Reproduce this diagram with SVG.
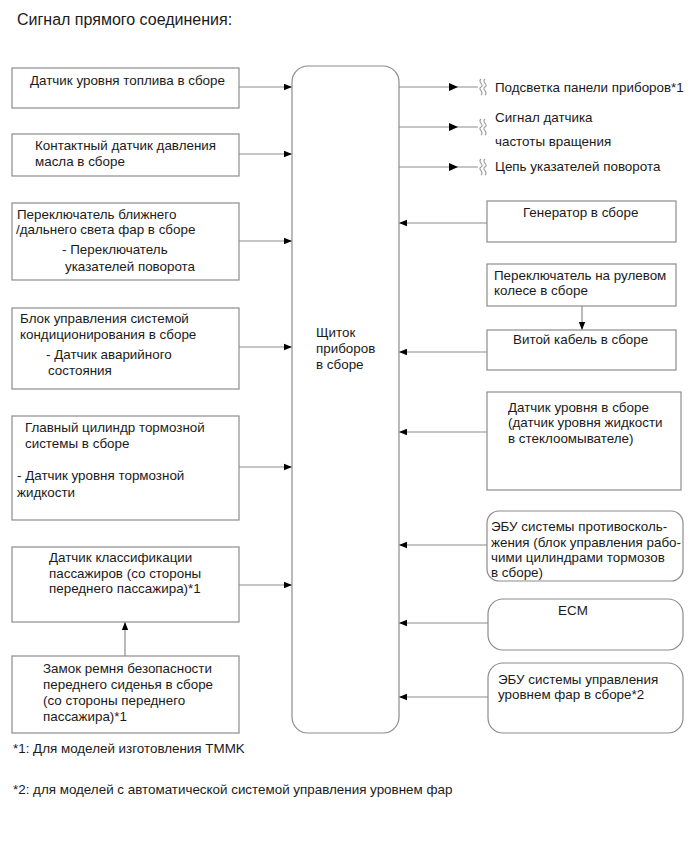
<svg xmlns="http://www.w3.org/2000/svg" width="690" height="854" viewBox="0 0 690 854">
<style>
.box{fill:#fff;stroke:#8c8c8c;stroke-width:1.2}
.ln{fill:none;stroke:#8c8c8c;stroke-width:1.2}
.t{font-family:"Liberation Sans",Arial,sans-serif;font-size:13.4px;fill:#1a1a1a;dominant-baseline:central}
.title{font-family:"Liberation Sans",Arial,sans-serif;font-size:16px;fill:#1a1a1a;dominant-baseline:central}
.sq{fill:none;stroke:#9a9a9a;stroke-width:1.1}
</style>
<defs>
<marker id="ah" viewBox="0 0 10 10" refX="10" refY="5" markerWidth="8" markerHeight="8" markerUnits="userSpaceOnUse" orient="auto">
<path d="M0,1 L10,5 L0,9 Z" fill="#000"/>
</marker>
<g id="squig">
<path class="sq" d="M-1,-8 C-5,-5 3,-2 -1,0 C-5,2 3,5 -1,8"/>
<path class="sq" d="M3,-8 C-1,-5 7,-2 3,0 C-1,2 7,5 3,8"/>
</g>
</defs>
<rect width="690" height="854" fill="#fff"/>
<text class="title" x="17" y="19">Сигнал прямого соединения:</text>

<g id="connectors">
<line class="ln" x1="239" y1="87" x2="292" y2="87" marker-end="url(#ah)"/>
<line class="ln" x1="239" y1="154" x2="292" y2="154" marker-end="url(#ah)"/>
<line class="ln" x1="239" y1="241" x2="292" y2="241" marker-end="url(#ah)"/>
<line class="ln" x1="239" y1="347" x2="292" y2="347" marker-end="url(#ah)"/>
<line class="ln" x1="239" y1="467" x2="292" y2="467" marker-end="url(#ah)"/>
<line class="ln" x1="239" y1="585" x2="292" y2="585" marker-end="url(#ah)"/>
<line class="ln" x1="125" y1="656" x2="125" y2="622" marker-end="url(#ah)"/>
<line class="ln" x1="487" y1="223" x2="399" y2="223" marker-end="url(#ah)"/>
<line class="ln" x1="582" y1="306" x2="582" y2="330" marker-end="url(#ah)"/>
<line class="ln" x1="487" y1="352" x2="399" y2="352" marker-end="url(#ah)"/>
<line class="ln" x1="487" y1="432" x2="399" y2="432" marker-end="url(#ah)"/>
<line class="ln" x1="487" y1="545" x2="399" y2="545" marker-end="url(#ah)"/>
<line class="ln" x1="488" y1="623" x2="399" y2="623" marker-end="url(#ah)"/>
<line class="ln" x1="488" y1="697" x2="399" y2="697" marker-end="url(#ah)"/>
<line class="ln" x1="399" y1="87" x2="478" y2="87"/>
<line class="ln" x1="399" y1="127" x2="478" y2="127"/>
<line class="ln" x1="399" y1="167" x2="478" y2="167"/>
<path d="M449,83 L458,87 L449,91 Z" fill="#000"/>
<path d="M449,123 L458,127 L449,131 Z" fill="#000"/>
<path d="M449,163 L458,167 L449,171 Z" fill="#000"/>
<use href="#squig" x="482" y="87"/>
<use href="#squig" x="482" y="127"/>
<use href="#squig" x="482" y="167"/>
</g>

<g id="out1"><text class="t" x="495" y="87">Подсветка панели приборов*1</text></g>
<g id="out2"><text class="t" x="495" y="117">Сигнал датчика</text><text class="t" x="495" y="141">частоты вращения</text></g>
<g id="out3"><text class="t" x="495" y="166">Цепь указателей поворота</text></g>

<g id="center">
<rect class="box" x="292" y="66" width="107" height="667" rx="16"/>
<text class="t" x="316" y="332">Щиток</text>
<text class="t" x="316" y="348">приборов</text>
<text class="t" x="316" y="364">в сборе</text>
</g>

<g id="L1">
<rect class="box" x="12" y="68" width="227" height="40"/>
<text class="t" x="30" y="80">Датчик уровня топлива в сборе</text>
</g>
<g id="L2">
<rect class="box" x="12" y="134" width="227" height="42"/>
<text class="t" x="35" y="145">Контактный датчик давления</text>
<text class="t" x="35" y="161">масла в сборе</text>
</g>
<g id="L3">
<rect class="box" x="12" y="203" width="227" height="77"/>
<text class="t" x="17" y="214">Переключатель ближнего</text>
<text class="t" x="16" y="229">/дальнего света фар в сборе</text>
<text class="t" x="62" y="249">- Переключатель</text>
<text class="t" x="65" y="266">указателей поворота</text>
</g>
<g id="L4">
<rect class="box" x="12" y="308" width="227" height="81"/>
<text class="t" x="20" y="318">Блок управления системой</text>
<text class="t" x="20" y="334">кондиционирования в сборе</text>
<text class="t" x="46" y="354">- Датчик аварийного</text>
<text class="t" x="48" y="370">состояния</text>
</g>
<g id="L5">
<rect class="box" x="12" y="416" width="227" height="104"/>
<text class="t" x="25" y="427">Главный цилиндр тормозной</text>
<text class="t" x="25" y="443">системы в сборе</text>
<text class="t" x="17" y="475">- Датчик уровня тормозной</text>
<text class="t" x="17" y="492">жидкости</text>
</g>
<g id="L6">
<rect class="box" x="12" y="547" width="227" height="75"/>
<text class="t" x="49" y="557">Датчик классификации</text>
<text class="t" x="49" y="573">пассажиров (со стороны</text>
<text class="t" x="49" y="588">переднего пассажира)*1</text>
</g>
<g id="L7">
<rect class="box" x="12" y="656" width="227" height="77"/>
<text class="t" x="43" y="668">Замок ремня безопасности</text>
<text class="t" x="43" y="684">переднего сиденья в сборе</text>
<text class="t" x="43" y="700">(со стороны переднего</text>
<text class="t" x="43" y="716">пассажира)*1</text>
</g>

<g id="R1">
<rect class="box" x="487" y="201" width="189" height="41"/>
<text class="t" x="523" y="212">Генератор в сборе</text>
</g>
<g id="R2">
<rect class="box" x="487" y="264" width="189" height="42"/>
<text class="t" x="494" y="275">Переключатель на рулевом</text>
<text class="t" x="494" y="290">колесе в сборе</text>
</g>
<g id="R3">
<rect class="box" x="487" y="330" width="189" height="40"/>
<text class="t" x="513" y="339">Витой кабель в сборе</text>
</g>
<g id="R4">
<rect class="box" x="487" y="392" width="194" height="98"/>
<text class="t" x="508" y="407">Датчик уровня в сборе</text>
<text class="t" x="508" y="422">(датчик уровня жидкости</text>
<text class="t" x="508" y="438">в стеклоомывателе)</text>
</g>
<g id="R5">
<rect class="box" x="487" y="511" width="196" height="70" rx="12"/>
<text class="t" x="491" y="526">ЭБУ системы противосколь-</text>
<text class="t" x="491" y="542">жения (блок управления рабо-</text>
<text class="t" x="491" y="557">чими цилиндрами тормозов</text>
<text class="t" x="491" y="572">в сборе)</text>
</g>
<g id="R6">
<rect class="box" x="488" y="599" width="195" height="51" rx="15"/>
<text class="t" x="573" y="610" text-anchor="middle">ECM</text>
</g>
<g id="R7">
<rect class="box" x="488" y="663" width="195" height="70" rx="15"/>
<text class="t" x="498" y="679">ЭБУ системы управления</text>
<text class="t" x="498" y="694">уровнем фар в сборе*2</text>
</g>

<g id="notes">
<text class="t" x="13" y="748">*1: Для моделей изготовления TMMK</text>
<text class="t" x="13" y="789">*2: для моделей с автоматической системой управления уровнем фар</text>
</g>
</svg>
